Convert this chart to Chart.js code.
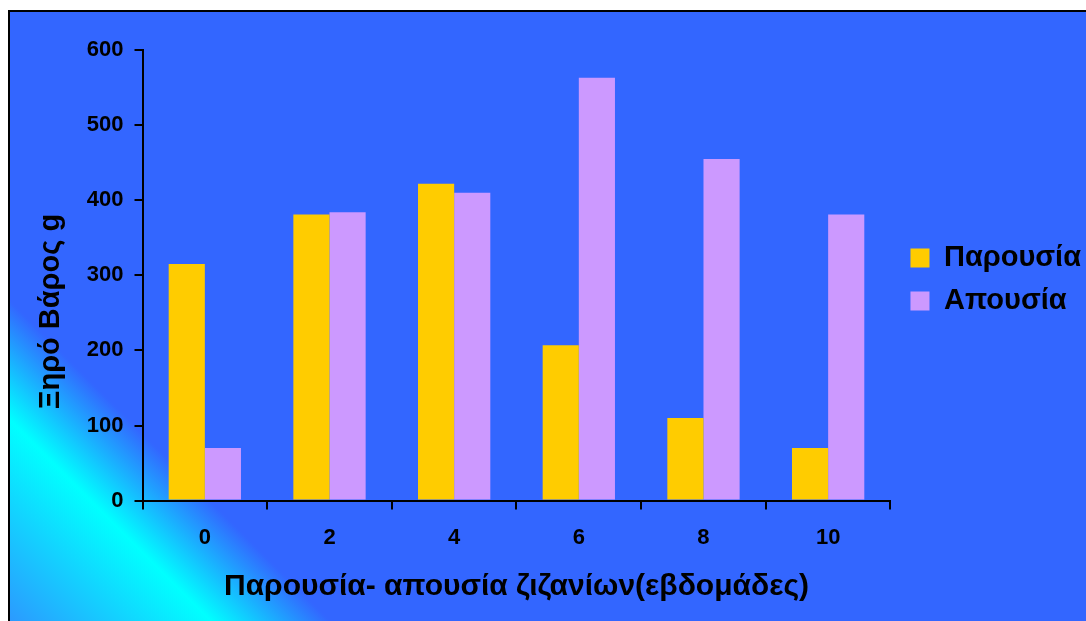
<!DOCTYPE html>
<html>
<head>
<meta charset="utf-8">
<script src="https://cdn.jsdelivr.net/npm/chart.js@4"></script>
<style>
  body { margin: 0; background: #fff; overflow: hidden; }
  #frame {
    position: absolute; left: 8px; top: 10px;
    width: 1090px; height: 612px;
    border: 2px solid #000;
    background: linear-gradient(45deg, #2c98ff 0%, #00ffff 12%, #3366ff 19%, #3366ff 100%);
  }
  canvas { display: block; }
</style>
</head>
<body>
<div id="frame"><canvas id="grafica" width="1090" height="612"></canvas></div>
<script>
// Datos
const semanas = ['0', '2', '4', '6', '8', '10'];
const presencia = [315, 381, 422, 207, 110, 70];
const ausencia = [70, 384, 410, 563, 455, 381];
const ticksY = [0, 100, 200, 300, 400, 500, 600];

const fuente = "'Liberation Sans', Arial, sans-serif";

const ctx = document.getElementById('grafica').getContext('2d');
new Chart(ctx, {
    type: 'bar',
    data: {
        labels: semanas,
        datasets: [{
            label: 'Παρουσία',
            data: presencia,
            backgroundColor: '#FFCC00'
        }, {
            label: 'Απουσία',
            data: ausencia,
            backgroundColor: '#CC99FF'
        }]
    },
    options: {
        responsive: false,
        animation: false,
        layout: { padding: { left: 24, top: 38, right: 9, bottom: 19 } },
        datasets: { bar: { categoryPercentage: 0.58, barPercentage: 1.0 } },
        plugins: {
            tooltip: { enabled: false },
            legend: {
                position: 'right',
                align: 'center',
                fullSize: false,
                maxWidth: 300,
                // título vacío, solo baja un poco los elementos de la leyenda
                title: { display: true, text: ' ', font: { size: 7 }, padding: 0 },
                labels: {
                    color: '#000',
                    font: { family: fuente, size: 29, weight: 'bold' },
                    boxWidth: 19,
                    boxHeight: 19,
                    padding: 14
                }
            }
        },
        scales: {
            x: {
                grid: { display: true, drawOnChartArea: false, offset: true, color: '#000', lineWidth: 2, tickLength: 9 },
                border: { color: '#000', width: 2 },
                ticks: { color: '#000', font: { family: fuente, size: 22, weight: 'bold' }, padding: 15 },
                title: {
                    display: true,
                    text: 'Παρουσία- απουσία ζιζανίων(εβδομάδες)',
                    color: '#000',
                    font: { family: fuente, size: 30, weight: 'bold' },
                    padding: { top: 3, bottom: 0 }
                }
            },
            y: {
                min: 0,
                max: 600,
                afterBuildTicks: (axis) => { axis.ticks = ticksY.map(v => ({ value: v })); },
                grid: { display: true, drawOnChartArea: false, color: '#000', lineWidth: 2, tickLength: 8 },
                border: { color: '#000', width: 2 },
                ticks: { color: '#000', font: { family: fuente, size: 22, weight: 'bold' }, padding: 11 },
                title: {
                    display: true,
                    text: 'Ξηρό Βάρος g' + '\u00a0'.repeat(9),
                    color: '#000',
                    font: { family: fuente, size: 29, weight: 'bold' },
                    padding: { top: 0, bottom: 7 }
                }
            },
            // eje vacío para separar la leyenda del área del gráfico
            hueco: {
                type: 'linear',
                position: 'right',
                grid: { display: false },
                border: { display: false },
                ticks: { display: false },
                afterFit: (axis) => { axis.width = 6; }
            }
        }
    }
});
</script>
</body>
</html>
